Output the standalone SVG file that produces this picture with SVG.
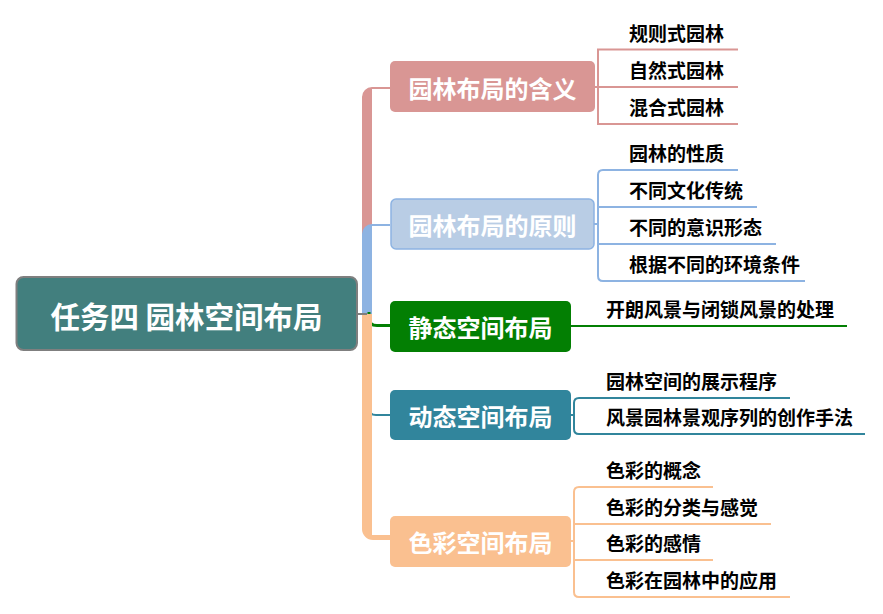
<svg xmlns="http://www.w3.org/2000/svg" width="883" height="614" viewBox="0 0 883 614">
<style>
text{font-family:"Noto Sans CJK SC","Noto Sans",sans-serif;font-weight:700}
.bt{fill:#ffffff;font-size:24px;text-anchor:middle}
.ct{fill:#000000;font-size:19px}
.rt{fill:#ffffff;font-size:29.5px;text-anchor:middle}
.ln{fill:none;stroke-width:2}
</style>
<rect width="883" height="614" fill="#ffffff"/>
<g id="connectors">
  <path d="M362,314 V97 A10,10 0 0 1 372,87 H390 V89 H372 V314 Z" fill="#d99694"/>
  <path d="M362,314 V234 A10,10 0 0 1 372,224 H390 V226 H372 V314 Z" fill="#8db3e2"/>
  <path d="M369,312 V318 Q369,325.5 377,325.5 H390" fill="none" stroke="#037f03" stroke-width="3"/>
  <path d="M369,400 V408 Q369,415 376,415 H390" fill="none" stroke="#31859c" stroke-width="2"/>
  <path d="M362,314 V529 A11,11 0 0 0 373,540 H390 V535 H372 V314 Z" fill="#fac090"/>
  <line x1="357" y1="314" x2="367" y2="314" stroke="#7f7f7f" stroke-width="2"/>
  <path class="ln" stroke="#d99694" d="M595,87 H598 M738,49.5 H598 V124 H738 M598,87 H738"/>
  <path class="ln" stroke="#8db3e2" d="M594,224 H598 M738,170 H603 Q598,170 598,175 V276 Q598,281 603,281 H805 M598,207 H757 M598,244 H776"/>
  <path class="ln" stroke="#037f03" d="M571,326 H847"/>
  <path class="ln" stroke="#31859c" d="M571,415 H574 M790,398 H579 Q574,398 574,403 V429 Q574,434 579,434 H865"/>
  <path class="ln" stroke="#fac090" d="M571,541 H574 M713,487 H579 Q574,487 574,492 V592 Q574,597 579,597 H790 M574,524 H771 M574,560 H713"/>
</g>
<g id="root">
  <rect x="16.5" y="277" width="340.5" height="73" rx="7" fill="#427f7e" stroke="#7f7f7f" stroke-width="2"/>
  <text class="rt" x="186.5" y="327.5">任务四 园林空间布局</text>
</g>
<g id="n1">
  <rect x="390" y="61" width="205" height="51" rx="5" fill="#d99694"/>
  <text class="bt" x="492.5" y="97.5">园林布局的含义</text>
</g>
<g id="n1a"><text class="ct" x="629" y="40.5">规则式园林</text></g>
<g id="n1b"><text class="ct" x="629" y="77.5">自然式园林</text></g>
<g id="n1c"><text class="ct" x="629" y="114.5">混合式园林</text></g>
<g id="n2">
  <rect x="391" y="199" width="203" height="50" rx="5" fill="#b9cde5" stroke="#8db3e2" stroke-width="1.5"/>
  <text class="bt" x="492.5" y="235">园林布局的原则</text>
</g>
<g id="n2a"><text class="ct" x="629" y="160.5">园林的性质</text></g>
<g id="n2b"><text class="ct" x="629" y="197.5">不同文化传统</text></g>
<g id="n2c"><text class="ct" x="629" y="234.5">不同的意识形态</text></g>
<g id="n2d"><text class="ct" x="629" y="271.5">根据不同的环境条件</text></g>
<g id="n3">
  <rect x="390" y="301" width="181" height="51" rx="5" fill="#037f03"/>
  <text class="bt" x="480.5" y="337">静态空间布局</text>
</g>
<g id="n3a"><text class="ct" x="606" y="316.5">开朗风景与闭锁风景的处理</text></g>
<g id="n4">
  <rect x="390" y="390" width="181" height="50" rx="5" fill="#31859c"/>
  <text class="bt" x="480.5" y="425.5">动态空间布局</text>
</g>
<g id="n4a"><text class="ct" x="606" y="388.5">园林空间的展示程序</text></g>
<g id="n4b"><text class="ct" x="606" y="424.5">风景园林景观序列的创作手法</text></g>
<g id="n5">
  <rect x="390" y="516" width="181" height="51" rx="5" fill="#fac090"/>
  <text class="bt" x="480.5" y="551.5">色彩空间布局</text>
</g>
<g id="n5a"><text class="ct" x="606" y="477.5">色彩的概念</text></g>
<g id="n5b"><text class="ct" x="606" y="514.5">色彩的分类与感觉</text></g>
<g id="n5c"><text class="ct" x="606" y="550.5">色彩的感情</text></g>
<g id="n5d"><text class="ct" x="606" y="587.5">色彩在园林中的应用</text></g>
</svg>
